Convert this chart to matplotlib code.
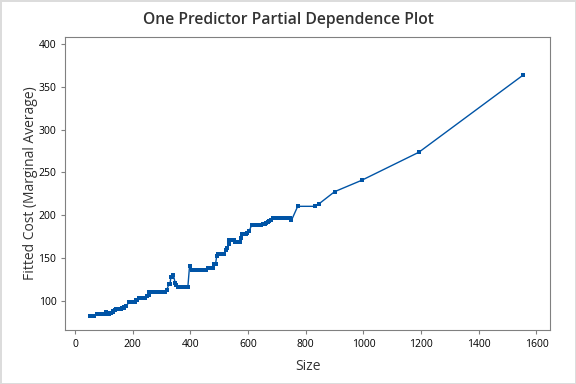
import matplotlib.pyplot as plt

# partial dependence values
size = [50, 55, 61, 67, 76, 87, 92, 97, 101, 107, 112, 117, 122, 126, 131, 132,
        138, 142, 148, 154, 159, 163, 168, 171, 175, 188, 194, 200, 206, 211, 213,
        223, 229, 235, 240, 244, 250, 255, 257, 263, 270, 278, 286, 293, 299, 304,
        313, 318, 325, 329, 332, 336, 341, 347, 349, 357, 364, 371, 379, 387, 391,
        397, 405, 412, 419, 426, 434, 441, 447, 454, 460, 467, 473, 478, 483, 487,
        491, 495, 500, 506, 511, 516, 522, 527, 532, 534, 539, 544, 550, 553, 558,
        563, 567, 572, 576, 579, 585, 591, 596, 604, 612, 619, 625, 631, 638, 645,
        650, 657, 663, 668, 674, 680, 685, 694, 702, 709, 716, 726, 736, 744, 750,
        772, 833, 845, 900, 994, 1192, 1553]
cost = [82, 82, 82, 82, 84.8, 84.8, 84.8, 84.8, 84.8, 86.7, 84.5, 84.5, 86, 86.4,
        87.5, 88, 89.5, 90.3, 90.3, 90.3, 90.7, 91.5, 91.5, 93.5, 93.8, 98.5, 98.5,
        98.5, 98.5, 100.8, 101, 104, 104, 104, 104, 104, 105.8, 106.5, 111, 111,
        111, 111, 111, 111, 111, 111, 110, 113, 119.5, 119.5, 127.7, 127.7, 130.4,
        120.7, 119, 116.7, 116.7, 116.7, 116.7, 116.7, 116.5, 141.2, 136, 136, 136,
        136, 136, 136, 136, 136, 138, 138, 138, 138, 143, 143, 152.5, 154.5, 154.5,
        154.5, 154.5, 154.5, 159, 162, 166.5, 171, 171, 171, 171, 168.5, 168.5,
        168.5, 168.5, 168.5, 173, 178, 178, 178, 179.8, 182, 188.4, 188.4, 188.4,
        188.4, 188.4, 188.4, 190, 190, 191, 192.5, 193, 194, 196.5, 196.5, 196.5,
        196.5, 196.5, 196.5, 196.5, 196.5, 194, 210.5, 210.5, 213.2, 227.6, 240.9,
        273.6, 363.5]

x_ticks = [0, 200, 400, 600, 800, 1000, 1200, 1400, 1600]
y_ticks = [100, 150, 200, 250, 300, 350, 400]

plt.rcParams['font.family'] = ['Open Sans', 'DejaVu Sans']

fig = plt.figure(figsize=(5.76, 3.84), dpi=100, edgecolor='#dcdcdc', linewidth=2)
ax = fig.add_axes([0.1134, 0.1419, 0.8410, 0.7610])

ax.plot(size, cost, color='#0054a6', linewidth=1, marker='s', markersize=2.6,
        markeredgewidth=0)

ax.set_xlim(-34, 1646)
ax.set_ylim(66.7, 407.8)
ax.set_xticks(x_ticks)
ax.set_yticks(y_ticks)

for s in ax.spines.values():
    s.set_color('#808080')
ax.tick_params(colors='#808080', labelcolor='black', labelsize=7.5, length=3)

# title is centred on the whole figure, not the axes
fig.suptitle('One Predictor Partial Dependence Plot', x=0.5, y=0.948, va='center',
             fontsize=11.3, color='#333333', fontweight='semibold')
ax.set_xlabel('Size', fontsize=10, color='#333333', labelpad=7)
ax.set_ylabel('Fitted Cost (Marginal Average)', fontsize=10, color='#333333', labelpad=0)

fig.savefig('out.png', dpi=100, edgecolor=fig.get_edgecolor())
